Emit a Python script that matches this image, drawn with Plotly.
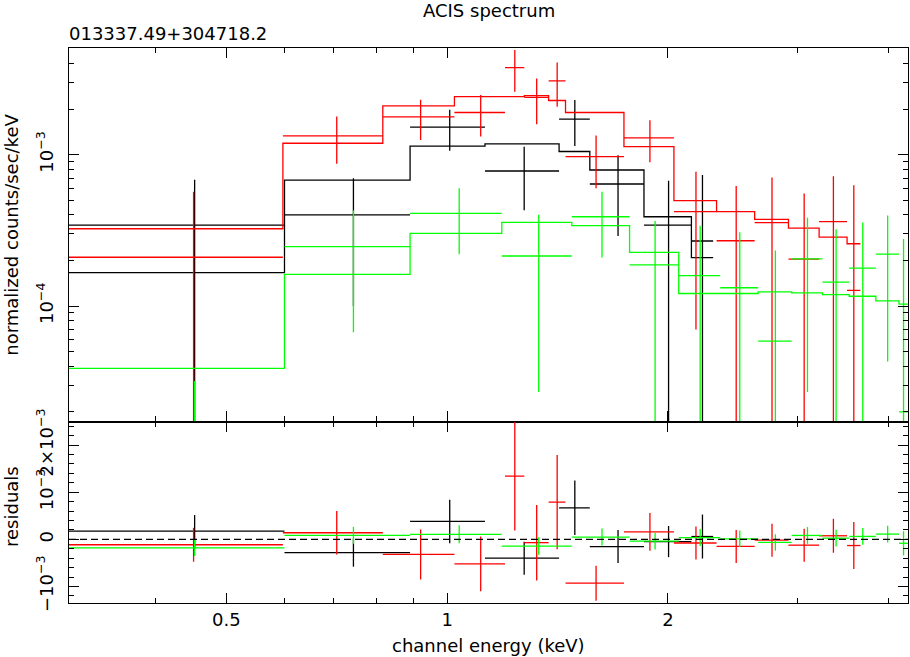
import math
import plotly.graph_objects as go

# ---------------- data ----------------
# energies in keV (bin low / high edges), values in normalized counts/sec/keV
black_lo = [0.305, 0.600, 0.890, 1.126, 1.421, 1.565, 1.855, 2.153]
black_hi = [0.600, 0.890, 1.126, 1.421, 1.565, 1.855, 2.153, 2.305]
black_val = [3.42e-4, 4.0e-4, 1.52e-3, 7.8e-4, 1.72e-3, 6.4e-4, 3.42e-4, 2.69e-4]
black_err = [3.4e-4, 3.0e-4, 4.6e-4, 3.5e-4, 5.8e-4, 3.5e-4, 3.3e-4, 4.66e-4]
black_mod = [1.66e-4, 6.8e-4, 1.14e-3, 1.18e-3, 1.05e-3, 7.92e-4, 3.89e-4, 2.09e-4]

red_lo = [0.305, 0.597, 0.817, 1.023, 1.199, 1.274, 1.375, 1.450, 1.742, 2.038,
          2.330, 2.626, 2.920, 3.215, 3.510]
red_hi = [0.597, 0.817, 1.023, 1.199, 1.274, 1.375, 1.450, 1.742, 2.038, 2.330,
          2.626, 2.920, 3.215, 3.510, 3.660]
red_val = [2.10e-4, 1.33e-3, 1.78e-3, 1.90e-3, 3.76e-3, 2.39e-3, 3.07e-3, 9.7e-4,
           1.29e-3, 4.20e-4, 2.70e-4, 3.56e-4, 2.04e-4, 3.61e-4, 1.27e-4]
red_err = [3.6e-4, 4.6e-4, 5.3e-4, 5.8e-4, 1.15e-3, 8.0e-4, 1.0e-3, 3.7e-4,
           4.0e-4, 3.5e-4, 3.5e-4, 3.5e-4, 3.5e-4, 3.6e-4, 5.0e-4]
red_mod = [3.24e-4, 1.19e-3, 2.10e-3, 2.42e-3, 2.42e-3, 2.46e-3, 2.28e-3, 1.90e-3,
           1.13e-3, 4.97e-4, 4.20e-4, 3.74e-4, 3.27e-4, 2.85e-4, 2.58e-4]

green_lo = [0.305, 0.600, 0.890, 1.187, 1.479, 1.773, 2.069, 2.357, 2.655, 2.950,
            3.249, 3.533, 3.842, 4.132]
green_hi = [0.600, 0.890, 1.187, 1.479, 1.773, 2.069, 2.357, 2.655, 2.950, 3.249,
            3.533, 3.842, 4.132, 4.250]
green_val = [-1.41e-4, 2.47e-4, 4.10e-4, 2.14e-4, 3.89e-4, 1.87e-4, 1.59e-4, 1.32e-4,
             5.87e-5, 2.05e-4, 1.44e-4, 1.78e-4, 2.20e-4, 2.0e-5]
green_err = [1.73e-4, 1.8e-4, 1.9e-4, 1.87e-4, 1.8e-4, 1.78e-4, 1.8e-4, 1.75e-4,
             1.74e-4, 1.78e-4, 1.77e-4, 1.78e-4, 1.77e-4, 2.57e-4]
green_mod = [3.87e-5, 1.62e-4, 3.02e-4, 3.57e-4, 3.40e-4, 2.26e-4, 1.21e-4, 1.21e-4,
             1.24e-4, 1.22e-4, 1.19e-4, 1.16e-4, 1.08e-4, 1.03e-4]

x_tickvals = [0.5, 1, 2]
x_ticktext = ["0.5", "1", "2"]
x_minor = [0.4, 0.6, 0.7, 0.8, 0.9, 3, 4]
top_tickvals = [1e-4, 1e-3]
top_ticktext = ["10<sup>\u22124</sup>", "10<sup>\u22123</sup>"]
res_tickvals = [-1e-3, 0, 1e-3, 2e-3]
res_ticktext = ["\u221210<sup>\u22123</sup>", "0", "10<sup>\u22123</sup>",
                "2\u00d710<sup>\u22123</sup>"]

title_text = "ACIS spectrum"
source_text = "013337.49+304718.2"
xlabel = "channel energy (keV)"
ylabel_top = "normalized counts/sec/keV"
ylabel_res = "residuals"

X_RANGE = [0.305, 4.25]
TOP_RANGE = [1.725e-5, 5.07e-3]
RES_RANGE = [-1.35e-3, 2.5e-3]

FONT = "DejaVu Sans"
LW = 1.3

series = [
    (black_lo, black_hi, black_val, black_err, black_mod, "#000000"),
    (red_lo, red_hi, red_val, red_err, red_mod, "#ff0000"),
    (green_lo, green_hi, green_val, green_err, green_mod, "#00ff00"),
]


def crosses(lo, hi, val, err, log_floor=None):
    xs, ys = [], []
    for a, b, v, e in zip(lo, hi, val, err):
        c = 0.5 * (a + b)
        top, bot = v + e, v - e
        if log_floor is not None:
            if v > 0:
                xs += [a, b, None]
                ys += [v, v, None]
            if top > 0:
                xs += [c, c, None]
                ys += [max(bot, log_floor), top, None]
        else:
            xs += [a, b, None]
            ys += [v, v, None]
            xs += [c, c, None]
            ys += [bot, top, None]
    return xs, ys


fig = go.Figure()

for lo, hi, val, err, mod, col in series:
    xs, ys = crosses(lo, hi, val, err, log_floor=1e-9)
    fig.add_trace(go.Scatter(x=xs, y=ys, mode="lines", line=dict(color=col, width=LW),
                             xaxis="x", yaxis="y", hoverinfo="skip"))
    fig.add_trace(go.Scatter(x=list(lo) + [hi[-1]], y=list(mod) + [mod[-1]],
                             mode="lines", line=dict(color=col, width=LW, shape="hv"),
                             xaxis="x", yaxis="y", hoverinfo="skip"))

for lo, hi, val, err, mod, col in series:
    res = [v - m for v, m in zip(val, mod)]
    xs, ys = crosses(lo, hi, res, err)
    fig.add_trace(go.Scatter(x=xs, y=ys, mode="lines", line=dict(color=col, width=LW),
                             xaxis="x2", yaxis="y2", hoverinfo="skip"))

# zero line of the residual panel
fig.add_shape(type="line", xref="x2 domain", yref="y2", x0=0, x1=1, y0=0, y1=0,
              line=dict(color="black", width=LW, dash="7px,4px"))

top_minor = [m * 10 ** k for k in (-5, -4, -3) for m in range(2, 10)]

common = dict(showgrid=False, zeroline=False, showline=True, linecolor="black",
              linewidth=LW, mirror="ticks", ticks="inside", ticklen=10,
              tickwidth=LW, tickcolor="black", automargin=False)
minor_common = dict(ticks="inside", ticklen=5, tickwidth=LW, tickcolor="black",
                    showgrid=False)

lx = [math.log10(X_RANGE[0]), math.log10(X_RANGE[1])]
DOM = 0.327

fig.update_layout(
    template="none",
    width=910, height=657,
    margin=dict(l=69, r=2, t=48, b=54, autoexpand=False),
    paper_bgcolor="white", plot_bgcolor="white", showlegend=False,
    font=dict(family=FONT, size=18, color="black"),
    xaxis=dict(type="log", range=lx, anchor="y", domain=[0, 1],
               tickvals=x_tickvals, showticklabels=False,
               minor=dict(tickvals=x_minor, **minor_common), **common),
    yaxis=dict(type="log", range=[math.log10(TOP_RANGE[0]), math.log10(TOP_RANGE[1])],
               domain=[DOM, 1], anchor="x",
               tickvals=top_tickvals, ticktext=top_ticktext, tickangle=-90,
               ticklabelstandoff=8,
               minor=dict(tickvals=top_minor, **minor_common), **common),
    xaxis2=dict(type="log", range=lx, anchor="y2", domain=[0, 1],
                tickvals=x_tickvals, ticktext=x_ticktext,
                minor=dict(tickvals=x_minor, **minor_common), **common),
    yaxis2=dict(range=RES_RANGE, domain=[0, DOM], anchor="x2",
                tickvals=res_tickvals, ticktext=res_ticktext, tickangle=-90,
                ticklabelstandoff=8,
                minor=dict(tick0=0, dtick=2e-4, **minor_common), **common),
)

ann = dict(showarrow=False, font=dict(family=FONT, size=18, color="black"))
fig.add_annotation(text=title_text, xref="paper", yref="paper", x=0.5, y=1,
                   xanchor="center", yanchor="middle", yshift=38, **ann)
fig.add_annotation(text=source_text, xref="paper", yref="paper", x=0, y=1,
                   xanchor="left", yanchor="middle", yshift=15, xshift=-2, **ann)
fig.add_annotation(text=xlabel, xref="paper", yref="paper", x=0.5, y=0,
                   xanchor="center", yanchor="middle", yshift=-42, **ann)
fig.add_annotation(text=ylabel_top, xref="paper", yref="paper", x=0, y=(DOM + 1) / 2,
                   xanchor="center", yanchor="middle", xshift=-57, textangle=-90, **ann)
fig.add_annotation(text=ylabel_res, xref="paper", yref="paper", x=0, y=0.173,
                   xanchor="center", yanchor="middle", xshift=-57, textangle=-90, **ann)

fig.write_html("out.html",
               config={"displayModeBar": False},
               post_script="document.body.style.margin='0';"
                           "document.body.style.overflow='hidden';")
